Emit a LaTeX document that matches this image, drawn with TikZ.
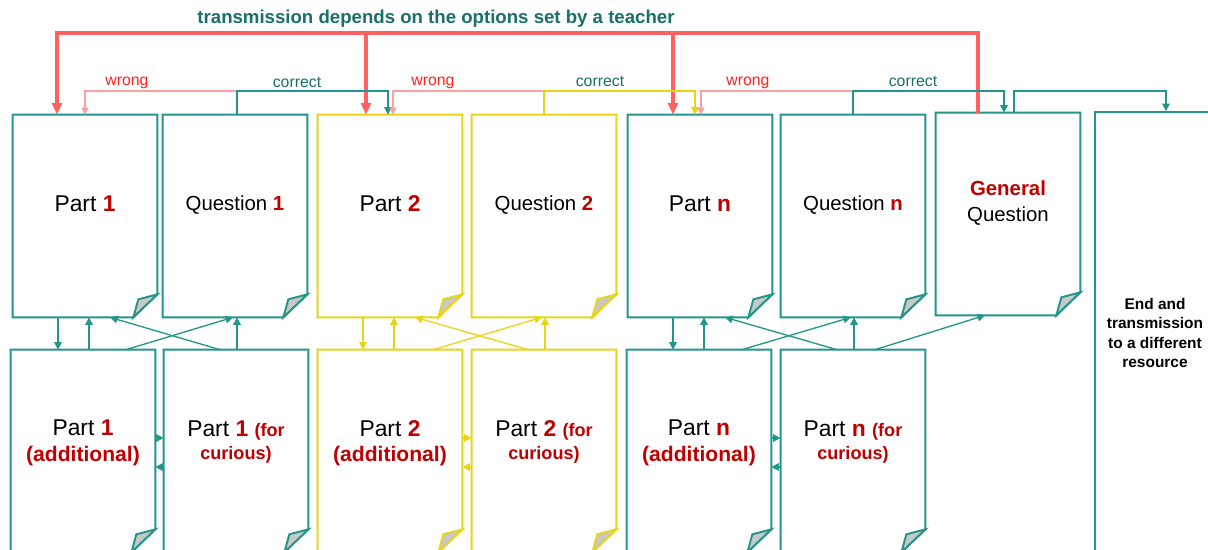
\documentclass[tikz,border=0pt]{standalone}
\usepackage{fontspec}
\setmainfont{Liberation Sans}
\usetikzlibrary{calc,arrows.meta}

\definecolor{docteal}{RGB}{34,150,138}
\definecolor{docyellow}{RGB}{232,212,24}
\definecolor{titleteal}{RGB}{24,112,102}
\definecolor{optred}{RGB}{255,96,96}
\definecolor{wrongpink}{RGB}{255,160,160}
\definecolor{wrongred}{RGB}{255,32,32}
\definecolor{numred}{RGB}{192,0,0}
\definecolor{foldgray}{RGB}{200,200,200}

\newcommand{\partno}[1]{\textcolor{numred}{\bfseries #1}}
% page with a folded corner: name, centre, colour
\newcommand{\docpage}[3]{%
  \node[docshape] (#1) at (#2) {};
  \draw[color=#3, docborder] (#1.north west) -- (#1.north east)
    -- ($(#1.south east)+(0,-23)$) -- ($(#1.south east)+(-24,0)$)
    -- (#1.south west) -- cycle;
  \filldraw[color=#3, docborder, fill=foldgray] ($(#1.south east)+(-24,0)$)
    -- ($(#1.south east)+(-19,-18)$) -- ($(#1.south east)+(0,-23)$) -- cycle;
}

\begin{document}
\begin{tikzpicture}[x=0.02cm, y=-0.02cm,
    docshape/.style={minimum width=2.88cm, minimum height=4.04cm, inner sep=0pt},
    docborder/.style={line width=1.1pt},
    parttext/.style={font=\fontsize{13}{14.5}\selectfont, align=center},
    questext/.style={font=\fontsize{11.6}{14.5}\selectfont, align=center},
    curtext/.style={font=\fontsize{13}{13.5}\selectfont, align=center},
    endtext/.style={font=\bfseries\fontsize{8.8}{11}\selectfont, align=center},
    title/.style={font=\bfseries\fontsize{10.6}{13}\selectfont, text=titleteal},
    wronglabel/.style={font=\fontsize{9}{11}\selectfont, text=wrongred},
    rightlabel/.style={font=\fontsize{9}{11}\selectfont, text=titleteal},
    teacher/.style={optred, line width=2pt, -{Triangle[length=6.5pt,width=5.5pt]}},
    wrongline/.style={wrongpink, line width=0.6pt, -{Triangle[length=4pt,width=4pt]}},
    rightline/.style={docteal, line width=0.8pt, -{Triangle[length=4.3pt,width=4.3pt]}},
    yellowline/.style={docyellow, line width=0.8pt, -{Triangle[length=4.3pt,width=4.3pt]}},
    link/.style={line width=0.75pt, -{Triangle[length=4.3pt,width=4.3pt]}}]
    \useasboundingbox (0,0) rectangle (1208,550);
    \clip (0,0) rectangle (1208,550);

    \node[title] (title) at (436,19) {transmission depends on the options set by a teacher};

    % top row
    \docpage{p1}{85,216}{docteal}
    \docpage{q1}{235,216}{docteal}
    \docpage{p2}{390,216}{docyellow}
    \docpage{q2}{544,216}{docyellow}
    \docpage{pn}{700,216}{docteal}
    \docpage{qn}{853,216}{docteal}
    \docpage{gq}{1008,214}{docteal}
    \node[draw=docteal, docborder, minimum width=2.9cm, minimum height=8.96cm] (end) at (1167.5,336) {};

    \node[parttext] (p1-t) at (85,204) {Part \partno{1}};
    \node[questext] (q1-t) at (235,205) {Question \partno{1}};
    \node[parttext] (p2-t) at (390,204) {Part \partno{2}};
    \node[questext] (q2-t) at (544,205) {Question \partno{2}};
    \node[parttext] (pn-t) at (700,204) {Part \partno{n}};
    \node[questext] (qn-t) at (853,205) {Question \partno{n}};
    \node[questext] (gq-t) at (1008,203) {\partno{General}\\Question};
    \node[endtext] (end-t) at (1155,333) {End and\\transmission\\to a different\\resource};

    % bottom row
    \docpage{p1a}{83,451}{docteal}
    \docpage{p1c}{236,451}{docteal}
    \docpage{p2a}{390,451}{docyellow}
    \docpage{p2c}{544,451}{docyellow}
    \docpage{pna}{699,451}{docteal}
    \docpage{pnc}{853,451}{docteal}

    \node[parttext] (p1a-t) at (83,443) {Part \partno{1}\\\partno{\fontsize{12}{14}\selectfont(additional)}};
    \node[curtext] (p1c-t) at (236,442) {Part \partno{1} \partno{\fontsize{10.3}{13}\selectfont(for}\\\partno{\fontsize{10.3}{13}\selectfont curious)}};
    \node[parttext] (p2a-t) at (390,443) {Part \partno{2}\\\partno{\fontsize{12}{14}\selectfont(additional)}};
    \node[curtext] (p2c-t) at (544,442) {Part \partno{2} \partno{\fontsize{10.3}{13}\selectfont(for}\\\partno{\fontsize{10.3}{13}\selectfont curious)}};
    \node[parttext] (pna-t) at (699,443) {Part \partno{n}\\\partno{\fontsize{12}{14}\selectfont(additional)}};
    \node[curtext] (pnc-t) at (853,442) {Part \partno{n} \partno{\fontsize{10.3}{13}\selectfont(for}\\\partno{\fontsize{10.3}{13}\selectfont curious)}};

    % links between the rows
    \foreach \pt/\qu/\ad/\cu/\col in {p1/q1/p1a/p1c/docteal, p2/q2/p2a/p2c/docyellow, pn/qn/pna/pnc/docteal}{
        \path ($(\pt.south)+(-27,0)$) coordinate (dn)
              ($(\pt.south)+(4,0)$) coordinate (up)
              ($(\cu.north)+(1,0)$) coordinate (uq)
              ($(\ad.east)+(0,-13)$) coordinate (hr)
              ($(\ad.east)+(0,16)$) coordinate (hl);
        \draw[link, color=\col] (dn) -- (dn |- \ad.north);
        \draw[link, color=\col] (up |- \ad.north) -- (up);
        \draw[link, color=\col] ($(\cu.north)+(-16,0)$) -- ($(\pt.south)+(25,0)$);
        \draw[link, color=\col] ($(\ad.north)+(43,0)$) -- ($(\qu.south)+(-2,0)$);
        \draw[link, color=\col] (uq) -- (uq |- \qu.south);
        \draw[link, color=\col] (hr) -- (hr -| \cu.west);
        \draw[link, color=\col] (hl -| \cu.west) -- (hl);
    }
    \draw[link, color=docteal] ($(pnc.north)+(22,0)$) -- ($(gq.south)+(-23,0)$);

    % teacher's options
    \coordinate (rail) at (0,33);
    \coordinate (fb) at (0,91);
    \draw[teacher] (978,0 |- gq.north) -- (978,0 |- rail) -| (57,0 |- p1.north);
    \draw[teacher] (366,0 |- rail) -- (366,0 |- p2.north);
    \draw[teacher] (673,0 |- rail) -- (673,0 |- pn.north);

    % answers
    \draw[wrongline] (237,0 |- q1.north) -- (237,0 |- fb) -| (85,0 |- p1.north);
    \draw[rightline] (237,0 |- q1.north) -- (237,0 |- fb) -| (388,0 |- p2.north);
    \draw[wrongline] (544,0 |- q2.north) -- (544,0 |- fb) -| (393,0 |- p2.north);
    \draw[yellowline] (544,0 |- q2.north) -- (544,0 |- fb) -| (695,0 |- pn.north);
    \draw[wrongline] (853,0 |- qn.north) -- (853,0 |- fb) -| (701,0 |- pn.north);
    \draw[rightline] (853,0 |- qn.north) -- (853,0 |- fb) -| (1004,0 |- gq.north);
    \draw[rightline] (1014,0 |- gq.north) -- (1014,0 |- fb) -| (1166,0 |- end.north);

    \node[wronglabel] (w1) at (127,83) {wrong};
    \node[rightlabel] (c1) at (297,82) {correct};
    \node[wronglabel] (w2) at (433,83) {wrong};
    \node[rightlabel] (c2) at (600,81) {correct};
    \node[wronglabel] (w3) at (748,83) {wrong};
    \node[rightlabel] (c3) at (913,81) {correct};
\end{tikzpicture}
\end{document}
